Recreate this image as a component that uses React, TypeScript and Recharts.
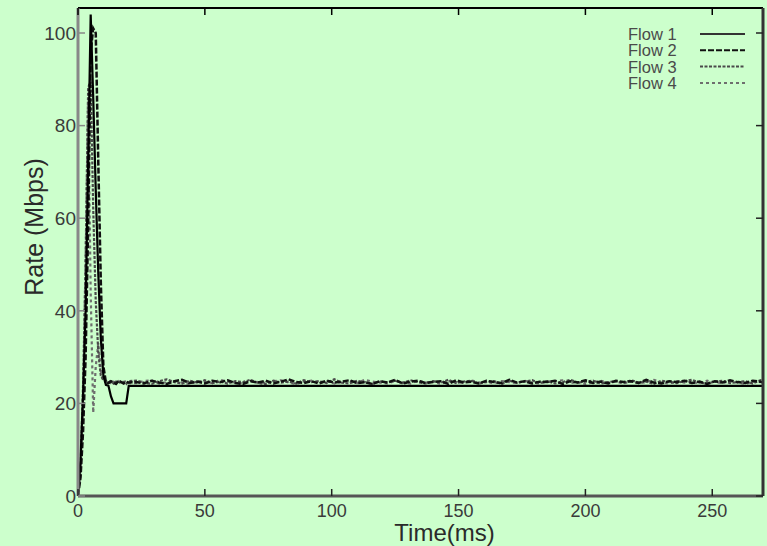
import React from 'react';
import { LineChart, Line, XAxis, YAxis, Label } from 'recharts';

// Flow 1 (solid): its own sampling times
const flow1Times = [0, 1, 2, 3, 4, 5, 6, 7, 8, 9, 10, 11, 12, 13, 14, 19, 20, 270];
const flow1Rates = [0, 8, 22, 40, 72, 104, 86, 66, 48, 34, 26, 24, 23.8, 21.5, 20, 20, 23.8, 23.8];

// Flows 2-4 share sampling times
const sharedTimes = [
  0, 1, 2, 3, 4, 5, 6, 7, 8, 9, 10, 11, 12, 13, 14, 15, 16, 17, 18, 19, 20,
  23, 26, 29, 32, 35, 38, 41, 44, 47, 50, 53, 56,
  59, 62, 65, 68, 71, 74, 77, 80, 83, 86, 89, 92,
  95, 98, 101, 104, 107, 110, 113, 116, 119, 122, 125, 128,
  131, 134, 137, 140, 143, 146, 149, 152, 155, 158, 161, 164,
  167, 170, 173, 176, 179, 182, 185, 188, 191, 194, 197, 200,
  203, 206, 209, 212, 215, 218, 221, 224, 227, 230, 233, 236,
  239, 242, 245, 248, 251, 254, 257, 260, 263, 266, 269, 270,
];

const flow2Rates = [
  0, 4, 14, 30, 58, 96, 101, 100, 72, 46, 28, 24.6, 24.4, 24.8, 24.5, 24.2, 24.9, 24.6, 24.3, 24.7, 24.5,
  24.6, 24.3, 24.9, 24.5, 24.2, 24.8, 25.1, 24.4, 24.7, 24.3, 24.9, 24.6,
  25.0, 24.4, 24.2, 24.8, 24.5, 24.9, 24.3, 24.7, 25.2, 24.6, 24.4, 24.8,
  24.3, 24.9, 24.5, 24.7, 25.0, 24.4, 24.6, 24.2, 24.8, 24.5, 25.1, 24.3,
  24.7, 24.9, 24.4, 24.6, 24.8, 24.2, 25.0, 24.5, 24.7, 24.3, 24.9, 24.6,
  24.4, 25.1, 24.5, 24.8, 24.3, 24.7, 24.6, 24.9, 24.2, 24.8, 24.5, 25.0,
  24.4, 24.7, 24.3, 24.9, 24.6, 24.8, 24.4, 25.1, 24.5, 24.3, 24.8, 24.6,
  24.9, 24.4, 24.7, 24.2, 24.8, 24.5, 25.0, 24.6, 24.4, 24.9, 24.7, 24.5,
];

const flow3Rates = [
  0, 6, 24, 50, 88, 90, 62, 42, 31, 26, 25, 24.8, 24.5, 24.9, 24.3, 24.7, 24.4, 24.9, 24.6, 24.2, 24.8,
  24.9, 24.5, 24.2, 24.8, 25.2, 24.6, 24.3, 24.9, 24.5, 25.0, 24.4, 24.7,
  24.3, 24.8, 24.6, 25.1, 24.4, 24.2, 24.9, 24.5, 24.7, 24.3, 25.0, 24.6,
  24.8, 24.4, 25.2, 24.5, 24.3, 24.9, 24.6, 24.2, 24.8, 24.5, 24.9, 24.4,
  25.0, 24.6, 24.3, 24.8, 24.5, 25.1, 24.4, 24.7, 24.9, 24.3, 24.6, 24.8,
  24.2, 24.9, 24.5, 24.7, 25.0, 24.4, 24.8, 24.3, 24.6, 25.1, 24.5, 24.7,
  24.9, 24.3, 24.6, 24.8, 24.4, 25.0, 24.5, 24.7, 24.2, 24.9, 24.6, 24.4,
  24.8, 25.1, 24.5, 24.3, 24.7, 24.9, 24.4, 24.6, 24.8, 24.3, 25.0, 24.6,
];

const flow4Rates = [
  0, 5, 20, 52, 86, 44, 18, 28, 33, 27, 25, 24.5, 24.9, 24.2, 24.7, 24.5, 24.8, 24.3, 24.6, 24.9, 24.4,
  24.4, 24.8, 25.0, 24.3, 24.6, 24.9, 24.5, 24.2, 24.8, 24.6, 24.4, 25.1,
  24.7, 24.5, 24.3, 24.9, 24.6, 24.4, 24.8, 25.0, 24.5, 24.2, 24.7, 24.9,
  24.5, 24.8, 24.3, 24.6, 24.9, 24.4, 25.1, 24.7, 24.5, 24.3, 24.8, 24.6,
  24.3, 24.9, 24.5, 24.7, 24.2, 24.8, 24.6, 24.4, 25.0, 24.5, 24.7, 24.3,
  24.8, 24.6, 24.4, 24.9, 24.5, 24.3, 24.7, 24.8, 25.0, 24.4, 24.6, 24.2,
  24.6, 24.9, 24.5, 24.7, 24.3, 24.8, 24.4, 24.6, 25.1, 24.5, 24.3, 24.8,
  24.5, 24.7, 24.3, 24.9, 24.6, 24.4, 24.8, 24.5, 24.2, 24.7, 24.6, 24.9,
];

const xTicks = [0, 50, 100, 150, 200, 250];
const yTicks = [0, 20, 40, 60, 80, 100];

const flowNames = ['Flow 1', 'Flow 2', 'Flow 3', 'Flow 4'];
const flowColors = ['#000000', '#111111', '#4a4a4a', '#6e6e6e'];
const flowDashes = ['', '6 2', '3 1.5', '3 3'];
const flowWidths = [2.2, 2.5, 2.2, 2.2];

const flow1Data = flow1Times.map((t, i) => ({ t, v: flow1Rates[i] }));
const flow2Data = sharedTimes.map((t, i) => ({ t, v: flow2Rates[i] }));
const flow3Data = sharedTimes.map((t, i) => ({ t, v: flow3Rates[i] }));
const flow4Data = sharedTimes.map((t, i) => ({ t, v: flow4Rates[i] }));

const FONT = '"Liberation Sans", Arial, Helvetica, sans-serif';
const TICK_IN = 7;

const LeftTick = (props: any) => {
  const { x, y, payload } = props;
  return (
    <g>
      <line x1={x + 2} x2={x + 2 + TICK_IN} y1={y} y2={y} stroke="#888" strokeWidth={1.5} />
      <text x={x} y={y} dy="0.355em" textAnchor="end" fill="#3a3a3a" fontSize={19} fontFamily={FONT}>
        {payload.value}
      </text>
    </g>
  );
};

const RightTick = (props: any) => {
  const { x, y } = props;
  return <line x1={x - TICK_IN} x2={x} y1={y} y2={y} stroke="#222" strokeWidth={1.5} />;
};

const BottomTick = (props: any) => {
  const { x, y, payload } = props;
  const axisY = y - 8;
  return (
    <g>
      <line x1={x} x2={x} y1={axisY - TICK_IN} y2={axisY} stroke="#222" strokeWidth={1.5} />
      <text x={x} y={y} dy="0.71em" textAnchor="middle" fill="#3a3a3a" fontSize={18} fontFamily={FONT}>
        {payload.value}
      </text>
    </g>
  );
};

const TopTick = (props: any) => {
  const { x, y } = props;
  return <line x1={x} x2={x} y1={y} y2={y + TICK_IN} stroke="#000" strokeWidth={1.5} />;
};

const LegendBox = () => (
  <svg width={140} height={80} style={{ position: 'absolute', left: 620, top: 22, pointerEvents: 'none' }}>
    {flowNames.map((name, i) => {
      const cy = 12 + i * 16.3;
      return (
        <g key={name}>
          <text x={8} y={cy} dy="0.36em" fill="#4a4a4a" fontSize={16.5} fontFamily={FONT}>
            {name}
          </text>
          <line
            x1={80}
            x2={125}
            y1={cy}
            y2={cy}
            stroke={i === 0 ? '#333' : flowColors[i]}
            strokeWidth={2}
            strokeDasharray={flowDashes[i] || undefined}
          />
        </g>
      );
    })}
  </svg>
);

const XLabel = (props: any) => {
  const { viewBox } = props;
  return (
    <text
      x={viewBox.x + viewBox.width / 2 + 24}
      y={viewBox.y + 45}
      textAnchor="middle"
      fill="#2a2a2a"
      fontSize={24}
      fontFamily={FONT}
    >
      Time(ms)
    </text>
  );
};

const YLabel = (props: any) => {
  const { viewBox } = props;
  const cx = viewBox.x + 43;
  const cy = viewBox.y + viewBox.height / 2 - 25;
  return (
    <text
      x={cx}
      y={cy}
      transform={`rotate(-90, ${cx}, ${cy})`}
      textAnchor="middle"
      fill="#2a2a2a"
      fontSize={25}
      fontFamily={FONT}
    >
      Rate (Mbps)
    </text>
  );
};

export default function App() {
  return (
    <div style={{ position: 'absolute', left: 0, top: 0, width: 767, height: 546, background: '#ccffcc', overflow: 'hidden' }}>
      <LineChart width={767} height={546} margin={{ top: 0, right: 3, bottom: 0, left: 0 }}>
        <XAxis
          xAxisId="bottom"
          dataKey="t"
          type="number"
          domain={[0, 270]}
          allowDataOverflow
          ticks={xTicks}
          height={50}
          tickSize={0}
          tickMargin={8}
          tickLine={false}
          tick={<BottomTick />}
          axisLine={{ stroke: '#555', strokeWidth: 3 }}
        >
          <Label content={<XLabel />} />
        </XAxis>
        <XAxis
          xAxisId="top"
          orientation="top"
          dataKey="t"
          type="number"
          domain={[0, 270]}
          allowDataOverflow
          ticks={xTicks}
          height={8}
          tickSize={0}
          tickMargin={0}
          tickLine={false}
          tick={<TopTick />}
          axisLine={{ stroke: '#000', strokeWidth: 2 }}
        />
        <YAxis
          yAxisId="left"
          type="number"
          domain={[0, 105.4]}
          allowDataOverflow
          ticks={yTicks}
          width={78}
          tickSize={0}
          tickMargin={2}
          tickLine={false}
          tick={<LeftTick />}
          axisLine={{ stroke: '#888', strokeWidth: 3 }}
        >
          <Label content={<YLabel />} />
        </YAxis>
        <YAxis
          yAxisId="right"
          orientation="right"
          type="number"
          domain={[0, 105.4]}
          allowDataOverflow
          ticks={yTicks}
          width={1}
          tickSize={0}
          tickMargin={0}
          tickLine={false}
          tick={<RightTick />}
          axisLine={{ stroke: '#333', strokeWidth: 3 }}
        />
        <Line xAxisId="bottom" yAxisId="left" data={flow4Data} dataKey="v" type="linear" stroke={flowColors[3]} strokeWidth={flowWidths[3]} strokeDasharray={flowDashes[3]} dot={false} isAnimationActive={false} />
        <Line xAxisId="bottom" yAxisId="left" data={flow3Data} dataKey="v" type="linear" stroke={flowColors[2]} strokeWidth={flowWidths[2]} strokeDasharray={flowDashes[2]} dot={false} isAnimationActive={false} />
        <Line xAxisId="bottom" yAxisId="left" data={flow2Data} dataKey="v" type="linear" stroke={flowColors[1]} strokeWidth={flowWidths[1]} strokeDasharray={flowDashes[1]} dot={false} isAnimationActive={false} />
        <Line xAxisId="bottom" yAxisId="left" data={flow1Data} dataKey="v" type="linear" stroke={flowColors[0]} strokeWidth={flowWidths[0]} dot={false} isAnimationActive={false} />
      </LineChart>
      <LegendBox />
    </div>
  );
}
